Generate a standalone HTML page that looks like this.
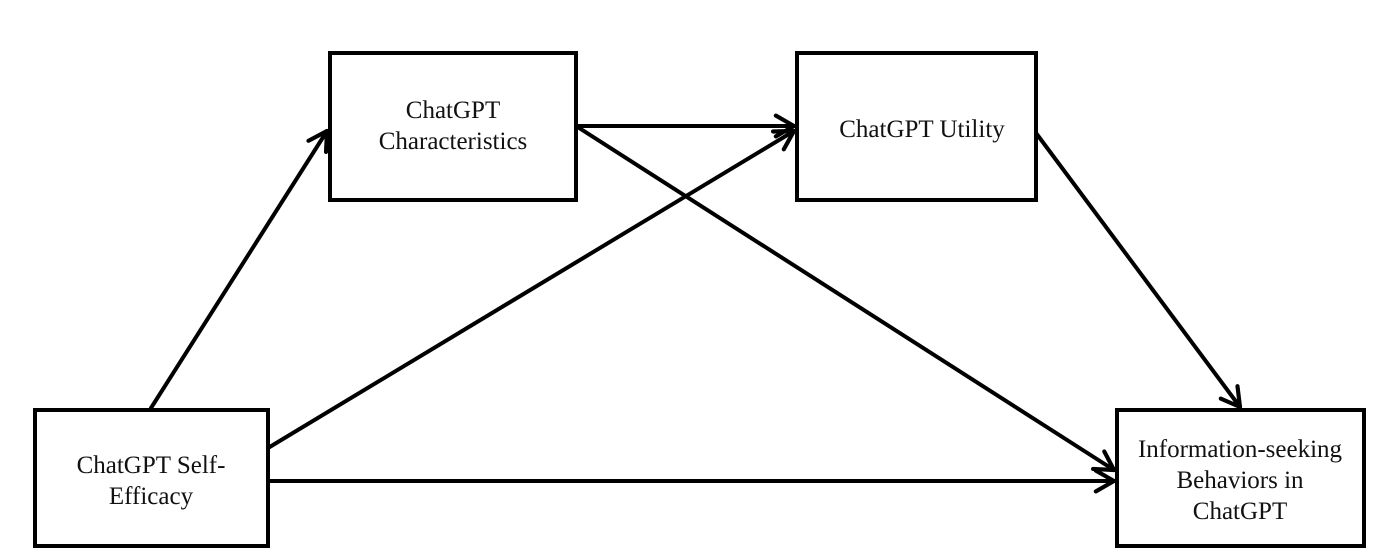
<!DOCTYPE html>
<html><head><style>
body{margin:0;background:#fff}
svg{display:block}
text{font-family:"Liberation Serif",serif;font-size:25px;fill:#111;text-anchor:middle}
</style></head><body>
<svg width="1380" height="554" viewBox="0 0 1380 554">
<defs>
<marker id="a" viewBox="0 0 20 20" refX="18" refY="10" markerWidth="26" markerHeight="26" markerUnits="userSpaceOnUse" orient="auto">
<path d="M4 2 L18 10 L4 18" fill="none" stroke="#000" stroke-width="3.2" stroke-linecap="round" stroke-linejoin="round"/>
</marker>
</defs>
<g fill="none" stroke="#000" stroke-width="4">
<rect x="330" y="53" width="246" height="147"/>
<rect x="797" y="53" width="239" height="147"/>
<rect x="35" y="410" width="233" height="136"/>
<rect x="1117" y="410" width="247" height="136"/>
<g marker-end="url(#a)" stroke-linecap="round">
<line x1="151" y1="408" x2="327" y2="131"/>
<line x1="268" y1="448" x2="794" y2="131"/>
<line x1="268" y1="481" x2="1114" y2="481"/>
<line x1="576" y1="126" x2="794" y2="126"/>
<line x1="576" y1="126" x2="1114" y2="470"/>
<line x1="1036" y1="133" x2="1240" y2="407"/>
</g>
</g>
<text x="453" y="118">ChatGPT</text>
<text x="453" y="149">Characteristics</text>
<text x="922" y="137">ChatGPT Utility</text>
<text x="151" y="473">ChatGPT Self-</text>
<text x="151" y="504">Efficacy</text>
<text x="1240" y="457">Information-seeking</text>
<text x="1240" y="488">Behaviors in</text>
<text x="1240" y="519">ChatGPT</text>
</svg>
</body></html>
